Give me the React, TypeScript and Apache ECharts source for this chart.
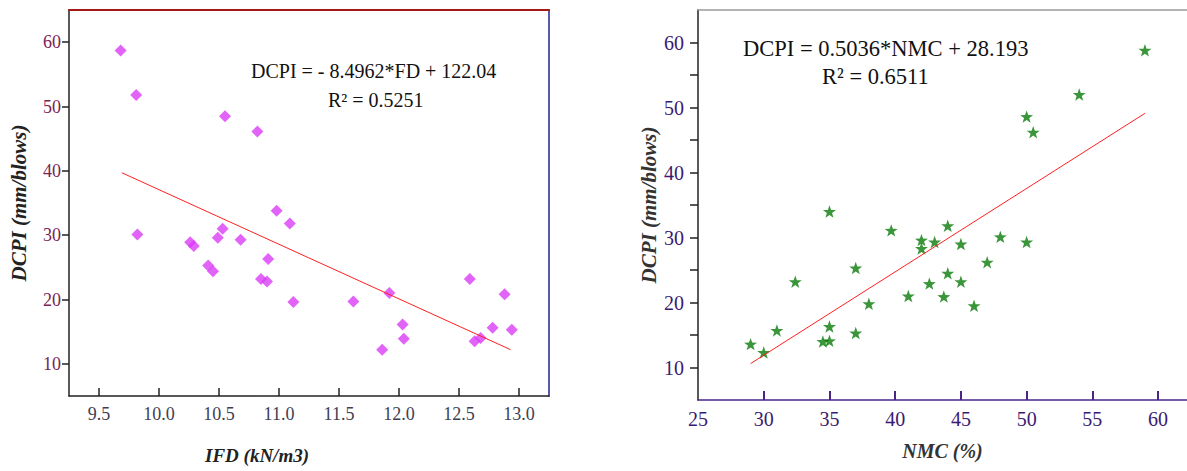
import React, { useEffect, useRef } from "react";
import * as echarts from "echarts";

// Left panel: IFD (kN/m3) vs DCPI (mm/blows)
const ifdX = [9.68, 9.81, 10.55, 10.82, 9.82, 10.26, 10.29, 10.41, 10.45, 10.49, 10.53, 10.68, 10.91, 10.85, 10.9, 10.98, 11.09, 11.12, 11.62, 11.92, 12.03, 12.04, 11.86, 12.59, 12.63, 12.68, 12.78, 12.88, 12.94];
const ifdY = [58.7, 51.8, 48.5, 46.1, 30.1, 28.9, 28.3, 25.3, 24.4, 29.6, 31.0, 29.3, 26.3, 23.2, 22.8, 33.8, 31.8, 19.6, 19.7, 21.0, 16.1, 13.9, 12.2, 23.2, 13.5, 14.0, 15.6, 20.8, 15.3];
const ifdTrendX = [9.69, 12.93];
const ifdTrendY = [39.7, 12.2];

// Right panel: NMC (%) vs DCPI (mm/blows)
const nmcX = [29, 30, 31, 32.4, 34.5, 35, 35, 35, 37, 37, 38, 39.7, 41, 42, 42, 42.6, 43, 44, 44, 43.7, 45, 45, 46, 47, 48, 50, 50, 50.5, 54, 59];
const nmcY = [13.6, 12.3, 15.7, 23.2, 14.0, 14.1, 16.3, 34.0, 25.3, 15.3, 19.8, 31.1, 21.0, 29.6, 28.3, 22.9, 29.3, 31.8, 24.5, 20.9, 29.0, 23.2, 19.5, 26.2, 30.1, 29.3, 48.6, 46.2, 52.0, 58.8];
const nmcTrendX = [29, 59];
const nmcTrendY = [10.6, 49.1];

const ifdTicks = [9.5, 10.0, 10.5, 11.0, 11.5, 12.0, 12.5, 13.0];
const nmcTicks = [25, 30, 35, 40, 45, 50, 55, 60];
const dcpiTicks = [10, 20, 30, 40, 50, 60];
const dcpiMinorTicks = [10, 15, 20, 25, 30, 35, 40, 45, 50, 55, 60];

const eqLeft = "DCPI = - 8.4962*FD + 122.04";
const r2Left = "R\u00B2 = 0.5251";
const eqRight = "DCPI = 0.5036*NMC + 28.193";
const r2Right = "R\u00B2 = 0.6511";

const SERIF = "'Liberation Serif', 'Times New Roman', serif";
const STAR =
  "path://M50,0L61.76,33.82L97.55,34.55L69.02,56.18L79.39,90.45L50,70L20.61,90.45L30.98,56.18L2.45,34.55L38.24,33.82Z";

const zip = (a: number[], b: number[]) => a.map((v, i) => [v, b[i]]);

export default function App() {
  const ref = useRef<HTMLDivElement>(null);
  useEffect(() => {
    if (!ref.current) return;
    const chart = echarts.init(ref.current, undefined, { renderer: "svg" });
    const blank = { show: false };
    const nameStyle = (size: number, color: string) => ({
      fontFamily: SERIF,
      fontSize: size,
      fontStyle: "italic",
      fontWeight: "bold",
      color,
    });
    chart.setOption({
      animation: false,
      backgroundColor: "#ffffff",
      grid: [
        { left: 69, top: 10, width: 480, height: 386 },
        { left: 698, top: 10, width: 489, height: 390 },
      ],
      xAxis: [
        {
          type: "value",
          gridIndex: 0,
          min: 9.25,
          max: 13.25,
          axisLine: { lineStyle: { color: "#222222", width: 1.5 } },
          axisTick: { inside: true, length: 8, customValues: ifdTicks, lineStyle: { color: "#222222", width: 1.5 } },
          axisLabel: {
            customValues: ifdTicks,
            formatter: (v: number) => v.toFixed(1),
            margin: 9,
            fontFamily: SERIF,
            fontSize: 18,
            color: "#3e3e52",
          },
          splitLine: blank,
        },
        {
          type: "value",
          gridIndex: 0,
          position: "top",
          min: 9.25,
          max: 13.25,
          axisLine: { show: true, lineStyle: { color: "#a41818", width: 2 } },
          axisTick: blank,
          axisLabel: blank,
          splitLine: blank,
        },
        {
          type: "value",
          gridIndex: 1,
          min: 25,
          max: 62.2,
          axisLine: { lineStyle: { color: "#4a2488", width: 1.5 } },
          axisTick: { inside: true, length: 9, customValues: nmcTicks.slice(1), lineStyle: { color: "#4a2488", width: 2 } },
          axisLabel: {
            customValues: nmcTicks,
            margin: 9,
            fontFamily: SERIF,
            fontSize: 20,
            color: "#3a1a72",
          },
          splitLine: blank,
          name: "NMC (%)",
          nameLocation: "middle",
          nameGap: 41,
          nameTextStyle: nameStyle(20, "#333333"),
        },
        {
          type: "value",
          gridIndex: 1,
          position: "top",
          min: 25,
          max: 62.2,
          axisLine: { show: true, lineStyle: { color: "#9a9a9a", width: 1.5 } },
          axisTick: blank,
          axisLabel: blank,
          splitLine: blank,
        },
      ],
      yAxis: [
        {
          type: "value",
          gridIndex: 0,
          min: 5,
          max: 65,
          axisLine: { show: true, lineStyle: { color: "#222222", width: 1.5 } },
          axisTick: { show: true, length: 7, customValues: dcpiTicks, lineStyle: { color: "#222222", width: 1.5 } },
          axisLabel: {
            customValues: dcpiTicks,
            margin: 8,
            fontFamily: SERIF,
            fontSize: 18,
            color: "#7a2456",
          },
          splitLine: blank,
          name: "DCPI (mm/blows)",
          nameLocation: "middle",
          nameGap: 40,
          nameTextStyle: nameStyle(21, "#222222"),
        },
        {
          type: "value",
          gridIndex: 0,
          position: "right",
          min: 5,
          max: 65,
          axisLine: { show: true, lineStyle: { color: "#5a5aaa", width: 2 } },
          axisTick: blank,
          axisLabel: blank,
          splitLine: blank,
        },
        {
          type: "value",
          gridIndex: 1,
          min: 5,
          max: 65,
          axisLine: { show: true, lineStyle: { color: "#222222", width: 1.5 } },
          axisTick: { show: true, length: 8, customValues: dcpiMinorTicks, lineStyle: { color: "#222222", width: 1.5 } },
          axisLabel: {
            customValues: dcpiTicks,
            margin: 14,
            fontFamily: SERIF,
            fontSize: 20,
            color: "#3a1a72",
          },
          splitLine: blank,
          name: "DCPI (mm/blows)",
          nameLocation: "middle",
          nameGap: 39,
          nameTextStyle: nameStyle(21, "#333333"),
        },
      ],
      series: [
        {
          type: "scatter",
          xAxisIndex: 0,
          yAxisIndex: 0,
          data: zip(ifdX, ifdY),
          symbol: "diamond",
          symbolSize: 12,
          itemStyle: { color: "#d93cf5" },
        },
        {
          type: "line",
          xAxisIndex: 0,
          yAxisIndex: 0,
          data: zip(ifdTrendX, ifdTrendY),
          showSymbol: false,
          symbol: "none",
          lineStyle: { color: "#ff2020", width: 1 },
        },
        {
          type: "scatter",
          xAxisIndex: 2,
          yAxisIndex: 2,
          data: zip(nmcX, nmcY),
          symbol: STAR,
          symbolKeepAspect: true,
          symbolSize: 13,
          itemStyle: { color: "#0a7a0a" },
        },
        {
          type: "line",
          xAxisIndex: 2,
          yAxisIndex: 2,
          data: zip(nmcTrendX, nmcTrendY),
          showSymbol: false,
          symbol: "none",
          lineStyle: { color: "#ff2020", width: 1 },
        },
      ],
      graphic: [
        {
          type: "text",
          x: 251,
          y: 71,
          style: { text: eqLeft, font: `20px ${SERIF}`, fill: "#111111", align: "left", verticalAlign: "middle" },
        },
        {
          type: "text",
          x: 328,
          y: 100,
          style: { text: r2Left, font: `20px ${SERIF}`, fill: "#111111", align: "left", verticalAlign: "middle" },
        },
        {
          type: "text",
          x: 743,
          y: 48,
          style: { text: eqRight, font: `22.5px ${SERIF}`, fill: "#111111", align: "left", verticalAlign: "middle" },
        },
        {
          type: "text",
          x: 822,
          y: 76,
          style: { text: r2Right, font: `22.5px ${SERIF}`, fill: "#111111", align: "left", verticalAlign: "middle" },
        },
        {
          type: "text",
          x: 257,
          y: 455,
          style: {
            text: "IFD (kN/m3)",
            font: `italic bold 19px ${SERIF}`,
            fill: "#222222",
            align: "center",
            verticalAlign: "middle",
          },
        },
      ],
    });
    return () => chart.dispose();
  }, []);
  return <div ref={ref} style={{ position: "fixed", left: 0, top: 0, width: 1187, height: 471 }} />;
}
